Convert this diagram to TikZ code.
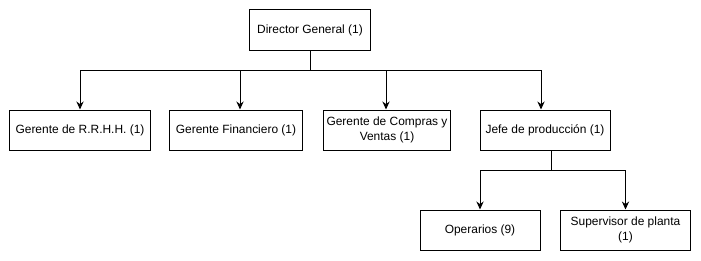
\documentclass[tikz,border=0pt]{standalone}
\usepackage{fontspec}
\setmainfont{Liberation Sans}
\usetikzlibrary{arrows.meta,positioning,calc}
\tikzset{
  Box/.style={draw, rectangle, align=center, inner sep=0pt,
              font=\fontsize{8.5}{10.5}\selectfont,
              minimum height=1cm, line width=0.7pt},
  Line/.style={line width=0.7pt},
  Arr/.style={-{Stealth[length=2mm, width=1.8mm]}, line width=0.7pt}
}

\begin{document}
\begin{tikzpicture}[x=0.025cm, y=-0.025cm]

\useasboundingbox (0,0) rectangle (701,261);

% ---- Level 0: director ----
\node[Box, minimum width=3cm] (DG) at (310,30) {Director General (1)};

% ---- Level 1: managers ----
\node[Box, minimum width=3.5cm]  (RH) at (80,130)  {Gerente de R.R.H.H. (1)};
\node[Box, minimum width=3.3cm]  (GF) at (236,130) {Gerente Financiero (1)};
\node[Box, minimum width=3.15cm] (GC) at (387,130) {Gerente de Compras y\\Ventas (1)};
\node[Box, minimum width=3.25cm] (JP) at (545,130) {Jefe de producci\'on (1)};

% ---- Level 2: production staff ----
\node[Box, minimum width=3cm]    (OP) at (480,230)   {Operarios (9)};
\node[Box, minimum width=3.25cm] (SP) at (625.5,230) {Supervisor de planta\\(1)};

% ---- Connectors ----
\coordinate (busA) at (310,70);
\coordinate (busB) at (551,170);

\draw[Line] (DG.south) -- (busA);
\draw[Arr] (busA) -| (RH.north);
\draw[Arr] (busA) -| ($(GF.north)+(4,0)$);
\draw[Arr] (busA) -| ($(GC.north)+(-1,0)$);
\draw[Arr] (busA) -| ($(JP.north)+(-4,0)$);

\draw[Line] ($(JP.south)+(6,0)$) -- (busB);
\draw[Arr] (busB) -| (OP.north);
\draw[Arr] (busB) -| (SP.north);

\end{tikzpicture}
\end{document}
